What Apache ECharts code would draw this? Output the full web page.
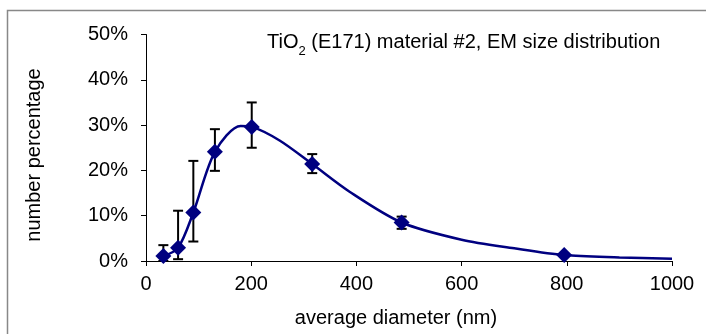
<!DOCTYPE html>
<html>
<head>
<meta charset="utf-8">
<script src="https://cdn.jsdelivr.net/npm/echarts@6/dist/echarts.min.js"></script>
<style>html,body{margin:0;padding:0;background:#fff;}#c{width:706px;height:334px;}</style>
</head>
<body>
<div id="c"></div>
<script>
// Measured points (average diameter in nm, number percentage)
const diameters = [33, 61, 90, 131, 201, 316, 486, 795];
const percentages = [1.1, 2.9, 10.7, 24.1, 29.6, 21.4, 8.5, 1.3];
const errUpper = [3.5, 11.1, 22.1, 29.1, 35.0, 23.6, 9.8, 1.6];
const errLower = [0.0, 0.4, 4.3, 19.9, 25.0, 19.4, 7.1, 1.0];
// Fitted distribution curve
const fitX = [33, 61, 90, 131, 180, 201, 254, 316, 387, 486, 600, 700, 795, 900, 1000];
const fitY = [1.1, 2.9, 10.7, 24.1, 29.8, 29.6, 26.6, 21.4, 15.3, 8.5, 4.7, 2.8, 1.3, 0.8, 0.5];
const xTicks = [0, 200, 400, 600, 800, 1000];
const yTicks = [0, 10, 20, 30, 40, 50];

const FONT = 'Liberation Sans, Arial, sans-serif';
const FS = 20;
const chart = echarts.init(document.getElementById('c'), null, {renderer: 'canvas'});

const points = diameters.map((d, i) => [d, percentages[i]]);
const errData = diameters.map((d, i) => [d, errLower[i], errUpper[i]]);
const fitData = fitX.map((x, i) => [x, fitY[i]]);

chart.setOption({
  animation: false,
  backgroundColor: '#fff',
  grid: {left: 146, right: 34, top: 34.5, bottom: 73, containLabel: false},
  graphic: [
    {type: 'rect', shape: {x: 7.5, y: 10.5, width: 760, height: 400}, style: {fill: 'none', stroke: '#888', lineWidth: 1.5}, silent: true},
    {type: 'text', x: 396, y: 318, style: {
      text: 'average diameter (nm)', align: 'center', verticalAlign: 'middle',
      font: FS + 'px ' + FONT, fill: '#000'}},
    {type: 'text', rotation: Math.PI / 2, x: 34, y: 155, style: {
      text: 'number percentage', align: 'center', verticalAlign: 'middle',
      font: FS + 'px ' + FONT, fill: '#000'}}
  ],
  title: {
    left: 262, top: 25,
    text: '{a|TiO}{s|2}{a| (E171) material #2, EM size distribution}',
    textStyle: {
      rich: {
        a: {fontSize: FS, fontFamily: FONT, fontWeight: 'normal', color: '#000', lineHeight: 24},
        s: {fontSize: 13, fontFamily: FONT, fontWeight: 'normal', color: '#000', lineHeight: 13, verticalAlign: 'bottom', padding: [0, 0, -4, 0]}
      }
    }
  },
  xAxis: {
    type: 'value', min: 0, max: 1000, interval: 200,
    axisLine: {onZero: false, lineStyle: {color: '#000', width: 1}},
    axisTick: {show: true, length: 5, inside: false, lineStyle: {color: '#000'}},
    axisLabel: {fontSize: FS, fontFamily: FONT, color: '#000', margin: 13,
      formatter: v => xTicks.includes(v) ? String(v) : ''},
    splitLine: {show: false}
  },
  yAxis: {
    type: 'value', min: 0, max: 50, interval: 10,
    axisLine: {show: true, lineStyle: {color: '#000', width: 1}},
    axisTick: {show: true, length: 5, inside: false, lineStyle: {color: '#000'}},
    axisLabel: {fontSize: FS, fontFamily: FONT, color: '#000', margin: 18,
      formatter: v => yTicks.includes(v) ? v + '%' : ''},
    splitLine: {show: false}
  },
  series: [
    {
      type: 'line', data: fitData, smooth: 0.3, showSymbol: false, symbol: 'none',
      lineStyle: {color: '#000080', width: 2.5}, z: 2
    },
    {
      type: 'custom', z: 3,
      data: errData,
      renderItem: function (params, api) {
        const x = api.value(0);
        const lo = api.coord([x, api.value(1)]);
        const hi = api.coord([x, api.value(2)]);
        const hw = 5;
        const st = {stroke: '#000', lineWidth: 2, fill: 'none'};
        return {type: 'group', children: [
          {type: 'line', shape: {x1: lo[0], y1: lo[1], x2: hi[0], y2: hi[1]}, style: st},
          {type: 'line', shape: {x1: lo[0] - hw, y1: lo[1], x2: lo[0] + hw, y2: lo[1]}, style: st},
          {type: 'line', shape: {x1: hi[0] - hw, y1: hi[1], x2: hi[0] + hw, y2: hi[1]}, style: st}
        ]};
      }
    },
    {
      type: 'scatter', data: points, symbol: 'diamond', symbolSize: 16, z: 4,
      itemStyle: {color: '#000080', opacity: 1}
    }
  ]
});
</script>
</body>
</html>
